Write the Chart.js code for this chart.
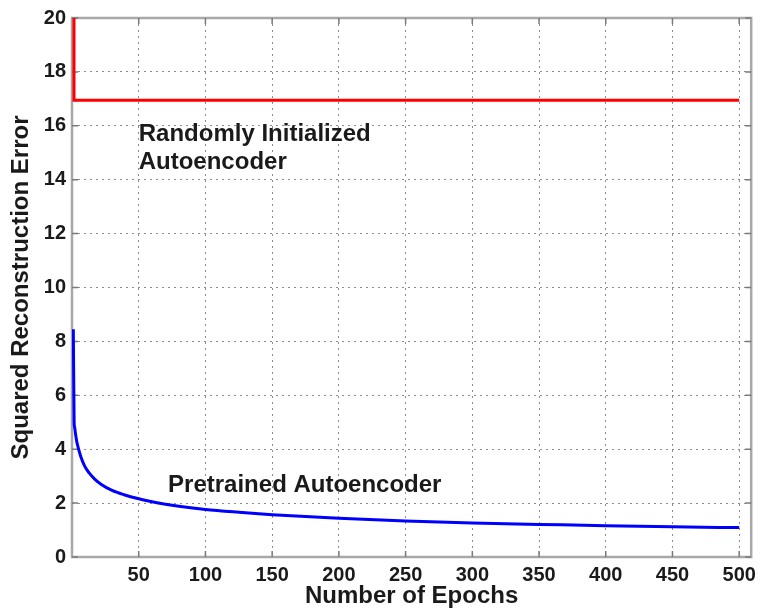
<!DOCTYPE html>
<html>
<head>
<meta charset="utf-8">
<script src="https://cdn.jsdelivr.net/npm/chart.js@4"></script>
<style>
  html, body { margin: 0; padding: 0; background: #fff; }
  #wrap { width: 762px; height: 612px; position: relative; }
</style>
</head>
<body>
<div id="wrap"><canvas id="errChart"></canvas></div>
<script>
  // values
  const blueEpochs = [1, 1.6, 2, 2.6, 3.5, 4.8, 6.5, 9.5, 13, 17, 22, 30, 39, 50, 60, 70, 80, 100, 125, 150, 175, 200, 250, 300, 350, 400, 450, 500];
  const blueError  = [8.45, 5.0, 4.8, 4.58, 4.3, 4.03, 3.74, 3.37, 3.11, 2.89, 2.69, 2.47, 2.31, 2.16, 2.05, 1.96, 1.885, 1.765, 1.66, 1.57, 1.5, 1.44, 1.34, 1.26, 1.21, 1.16, 1.12, 1.09];
  const redEpochs  = [1.5, 1.5, 500];
  const redError   = [21, 16.95, 16.95];
  const xTicks     = [50, 100, 150, 200, 250, 300, 350, 400, 450, 500];
  const notes = [
    { text: "Randomly Initialized", x: 50, y: 15.44 },
    { text: "Autoencoder",          x: 50, y: 14.4 },
    { text: "Pretrained Autoencoder", x: 72, y: 2.4 }
  ];

  const FONT = "'Liberation Sans', Arial, Helvetica, sans-serif";
  const INK = "#1a1a1a";

  const toPts = (xs, ys) => xs.map((v, i) => ({ x: v, y: ys[i] }));

  // box, inward tick marks and the in-plot labels
  const frame = {
    id: "frame",
    beforeDatasetsDraw(chart) {
      const { ctx, chartArea: a, scales: { x, y } } = chart;
      ctx.save();
      ctx.strokeStyle = "#a8a8a8";
      ctx.lineWidth = 2.5;
      ctx.strokeRect(a.left, a.top, a.right - a.left, a.bottom - a.top);
      ctx.strokeStyle = "#7a7a7a";
      ctx.lineWidth = 1.5;
      ctx.beginPath();
      x.ticks.forEach(t => {
        const px = x.getPixelForValue(t.value);
        ctx.moveTo(px, a.bottom); ctx.lineTo(px, a.bottom - 6);
        ctx.moveTo(px, a.top);    ctx.lineTo(px, a.top + 6);
      });
      y.ticks.forEach(t => {
        const py = y.getPixelForValue(t.value);
        ctx.moveTo(a.left, py);  ctx.lineTo(a.left + 6, py);
        ctx.moveTo(a.right, py); ctx.lineTo(a.right - 6, py);
      });
      ctx.stroke();
      ctx.restore();
    },
    afterDatasetsDraw(chart) {
      const { ctx, scales: { x, y } } = chart;
      ctx.save();
      ctx.fillStyle = INK;
      ctx.font = "bold 24px " + FONT;
      ctx.textAlign = "left";
      ctx.textBaseline = "alphabetic";
      notes.forEach(n => ctx.fillText(n.text, x.getPixelForValue(n.x), y.getPixelForValue(n.y)));
      ctx.restore();
    }
  };

  new Chart(document.getElementById("errChart"), {
    type: "line",
    data: {
      datasets: [
        { data: toPts(redEpochs, redError), borderColor: "#ff0000", borderWidth: 3, pointRadius: 0, tension: 0, clip: 0 },
        { data: toPts(blueEpochs, blueError), borderColor: "#0000ff", borderWidth: 3, pointRadius: 0, cubicInterpolationMode: "monotone" }
      ]
    },
    options: {
      responsive: true,
      maintainAspectRatio: false,
      animation: false,
      layout: { padding: { left: 0, top: 17, right: 7, bottom: 0 } },
      plugins: { legend: { display: false }, tooltip: { enabled: false } },
      scales: {
        x: {
          type: "linear",
          min: 0,
          max: 509,
          afterBuildTicks: s => { s.ticks = xTicks.map(v => ({ value: v })); },
          afterFit: s => { s.height = 55; },
          grid: { color: "#8c8c8c", lineWidth: 1, drawTicks: false },
          border: { display: false, dash: [2, 4] },
          ticks: { color: INK, padding: 6, maxRotation: 0, autoSkip: false, font: { family: FONT, size: 20, weight: "bold" } },
          title: { display: true, text: "Number of Epochs", color: INK, padding: { top: 0, bottom: 1 }, font: { family: FONT, size: 24, weight: "bold" } }
        },
        y: {
          min: 0,
          max: 20,
          afterFit: s => { s.width = 72; },
          grid: { color: "#8c8c8c", lineWidth: 1, drawTicks: false },
          border: { display: false, dash: [2, 4] },
          ticks: { stepSize: 2, color: INK, padding: 6, font: { family: FONT, size: 20, weight: "bold" } },
          title: { display: true, text: "Squared Reconstruction Error", color: INK, padding: { top: 7, bottom: 0 }, font: { family: FONT, size: 24, weight: "bold" } }
        }
      }
    },
    plugins: [frame]
  });
</script>
</body>
</html>
